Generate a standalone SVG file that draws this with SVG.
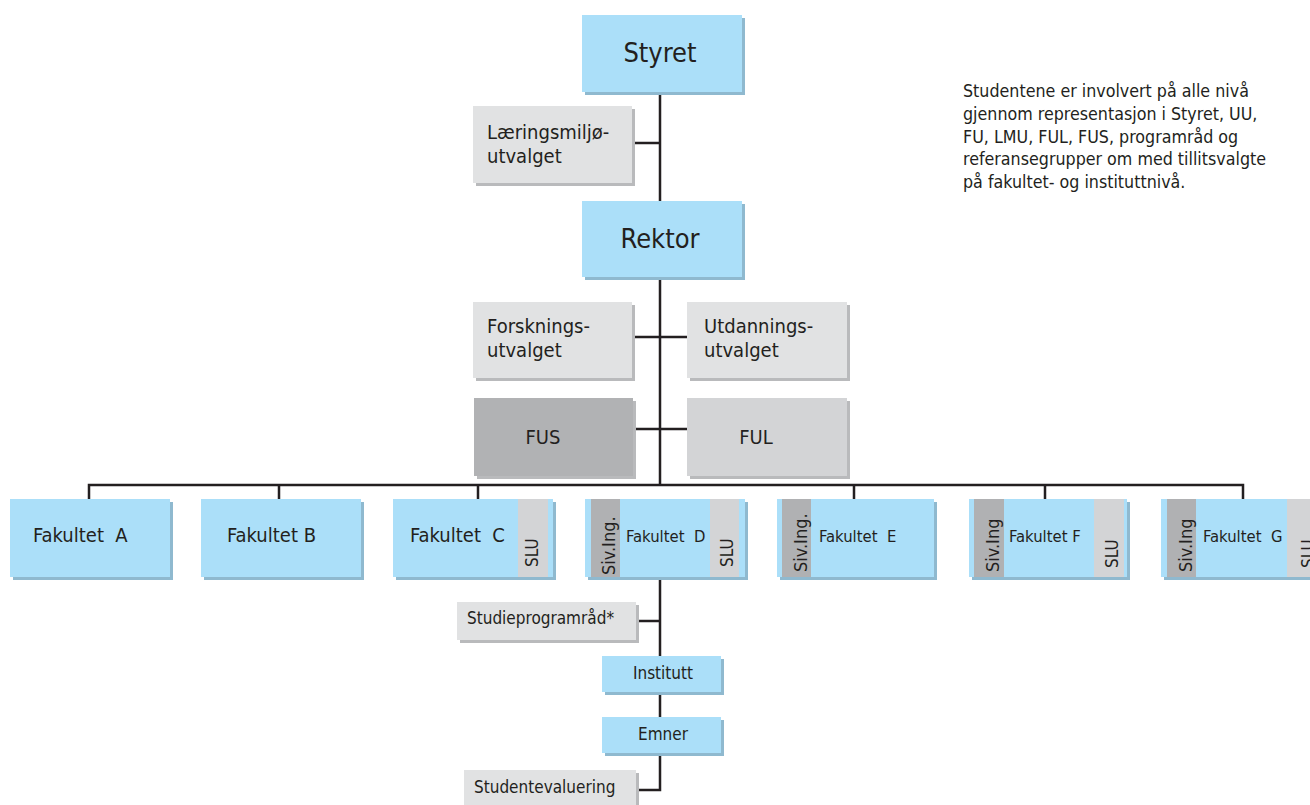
<svg xmlns="http://www.w3.org/2000/svg" width="1310" height="805" viewBox="0 0 1310 805">
<defs>
<style>
text{font-family:"DejaVu Sans Condensed","DejaVu Sans",sans-serif;fill:#231f20;}
.blue{fill:#abdff9;}
.bsh{fill:#8fb9cf;}
.gray{fill:#e1e2e3;}
.gsh{fill:#b9babc;}
.dark{fill:#b1b2b4;}
.mid{fill:#d3d4d6;}
.siv{fill:#b0b1b3;}
.slu{fill:#d3d4d6;}
.ln{stroke:#231f20;stroke-width:2.5;fill:none;}
.big{font-size:27px;text-anchor:middle;}
.side{font-size:20px;}
.fak{font-size:20px;}
.fak2{font-size:16.5px;}
.rot{font-size:18px;}
.slut{font-size:17px;}
.note{font-size:17.7px;}
.small{font-size:17px;}
</style>
</defs>
<rect width="1310" height="805" fill="#ffffff"/>
<g id="connectors">
<path class="ln" d="M660,92 V485"/>
<path class="ln" d="M632,143 H660"/>
<path class="ln" d="M632,337 H687"/>
<path class="ln" d="M633,429 H687"/>
<path class="ln" d="M89,499 V485 H1243 V499"/>
<path class="ln" d="M279,485 V499 M478,485 V499 M854,485 V499 M1045,485 V499"/>
<path class="ln" d="M660,577 V790 H639"/>
<path class="ln" d="M639,621 H660"/>
</g>
<g id="styret">
<rect class="bsh" x="585" y="18" width="160" height="77"/>
<rect class="blue" x="582" y="15" width="160" height="77"/>
<text class="big" x="660" y="62">Styret</text>
</g>
<g id="laeringsmiljo">
<rect class="gsh" x="476" y="109" width="159" height="77"/>
<rect class="gray" x="473" y="106" width="159" height="77"/>
<text class="side" x="487" y="139">Læringsmiljø-</text>
<text class="side" x="487" y="163">utvalget</text>
</g>
<g id="note">
<text class="note" x="963" y="97">Studentene er involvert på alle nivå</text>
<text class="note" x="963" y="120">gjennom representasjon i Styret, UU,</text>
<text class="note" x="963" y="143">FU, LMU, FUL, FUS, programråd og</text>
<text class="note" x="963" y="165">referansegrupper om med tillitsvalgte</text>
<text class="note" x="963" y="188">på fakultet- og instituttnivå.</text>
</g>
<g id="rektor">
<rect class="bsh" x="585" y="204" width="160" height="76"/>
<rect class="blue" x="582" y="201" width="160" height="76"/>
<text class="big" x="660" y="248">Rektor</text>
</g>
<g id="forskning">
<rect class="gsh" x="476" y="305" width="159" height="76"/>
<rect class="gray" x="473" y="302" width="159" height="76"/>
<text class="side" x="487" y="333">Forsknings-</text>
<text class="side" x="487" y="357">utvalget</text>
</g>
<g id="utdanning">
<rect class="gsh" x="690" y="305" width="160" height="76"/>
<rect class="gray" x="687" y="302" width="160" height="76"/>
<text class="side" x="704" y="333">Utdannings-</text>
<text class="side" x="704" y="357">utvalget</text>
</g>
<g id="fus">
<rect class="gsh" x="477" y="401" width="159" height="78"/>
<rect class="dark" x="474" y="398" width="159" height="78"/>
<text class="side" x="543" y="444" text-anchor="middle">FUS</text>
</g>
<g id="ful">
<rect class="gsh" x="690" y="401" width="160" height="78"/>
<rect class="mid" x="687" y="398" width="160" height="78"/>
<text class="side" x="756" y="444" text-anchor="middle">FUL</text>
</g>
<g id="fakultet-a">
<rect class="bsh" x="13" y="502" width="160" height="78"/>
<rect class="blue" x="10" y="499" width="160" height="78"/>
<text class="fak" x="33" y="542" xml:space="preserve">Fakultet  A</text>
</g>
<g id="fakultet-b">
<rect class="bsh" x="204" y="502" width="160" height="78"/>
<rect class="blue" x="201" y="499" width="160" height="78"/>
<text class="fak" x="227" y="542">Fakultet B</text>
</g>
<g id="fakultet-c">
<rect class="bsh" x="396" y="502" width="160" height="78"/>
<rect class="blue" x="393" y="499" width="160" height="78"/>
<rect class="slu" x="518" y="499" width="30" height="78"/>
<text class="fak" x="410" y="542" xml:space="preserve">Fakultet  C</text>
<text class="slut" transform="translate(538,567) rotate(-90)">SLU</text>
</g>
<g id="fakultet-d">
<rect class="bsh" x="588" y="502" width="160" height="78"/>
<rect class="blue" x="585" y="499" width="160" height="78"/>
<rect class="siv" x="591" y="499" width="29" height="78"/>
<rect class="slu" x="710" y="499" width="29" height="78"/>
<text class="fak2" x="626" y="542" xml:space="preserve">Fakultet  D</text>
<text class="rot" transform="translate(615,575) rotate(-90)">Siv.Ing.</text>
<text class="slut" transform="translate(733,567) rotate(-90)">SLU</text>
</g>
<g id="fakultet-e">
<rect class="bsh" x="780" y="502" width="157" height="78"/>
<rect class="blue" x="777" y="499" width="157" height="78"/>
<rect class="siv" x="782" y="499" width="29" height="78"/>
<text class="fak2" x="819" y="542" xml:space="preserve">Fakultet  E</text>
<text class="rot" transform="translate(807,572) rotate(-90)">Siv.Ing.</text>
</g>
<g id="fakultet-f">
<rect class="bsh" x="972" y="502" width="158" height="78"/>
<rect class="blue" x="969" y="499" width="158" height="78"/>
<rect class="siv" x="974" y="499" width="30" height="78"/>
<rect class="slu" x="1094" y="499" width="30" height="78"/>
<text class="fak2" x="1009" y="542">Fakultet F</text>
<text class="rot" transform="translate(999,572) rotate(-90)">Siv.Ing</text>
<text class="slut" transform="translate(1118,568) rotate(-90)">SLU</text>
</g>
<g id="fakultet-g">
<rect class="bsh" x="1164" y="502" width="160" height="78"/>
<rect class="blue" x="1161" y="499" width="160" height="78"/>
<rect class="siv" x="1167" y="499" width="29" height="78"/>
<rect class="slu" x="1287" y="499" width="30" height="78"/>
<text class="fak2" x="1203" y="542" xml:space="preserve">Fakultet  G</text>
<text class="rot" transform="translate(1192,572) rotate(-90)">Siv.Ing</text>
<text class="slut" transform="translate(1314,568) rotate(-90)">SLU</text>
</g>
<g id="studieprogramrad">
<rect class="gsh" x="460" y="605" width="179" height="38"/>
<rect class="gray" x="457" y="602" width="179" height="38"/>
<text class="small" x="467" y="624">Studieprogramråd*</text>
</g>
<g id="institutt">
<rect class="bsh" x="605" y="659" width="119" height="36"/>
<rect class="blue" x="602" y="656" width="119" height="36"/>
<text class="small" x="663" y="679" text-anchor="middle">Institutt</text>
</g>
<g id="emner">
<rect class="bsh" x="605" y="720" width="119" height="36"/>
<rect class="blue" x="602" y="717" width="119" height="36"/>
<text class="small" x="663" y="740" text-anchor="middle">Emner</text>
</g>
<g id="studentevaluering">
<rect class="gsh" x="467" y="773" width="172" height="40"/>
<rect class="gray" x="464" y="770" width="172" height="40"/>
<text class="small" x="474" y="793">Studentevaluering</text>
</g>
</svg>
